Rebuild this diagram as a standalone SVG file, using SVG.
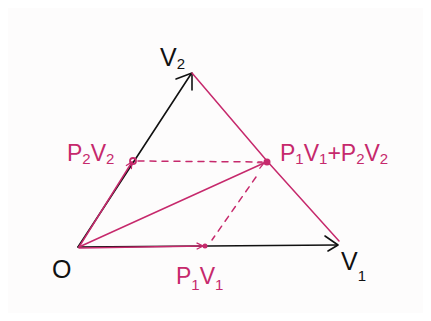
<svg xmlns="http://www.w3.org/2000/svg" width="431" height="321" viewBox="0 0 431 321">
<style>
.blk{stroke:#111;stroke-width:1.6;fill:none;stroke-linecap:round;stroke-linejoin:round}
.mag{stroke:#c6296c;stroke-width:1.5;fill:none;stroke-linecap:round;stroke-linejoin:round}
.dash{stroke-dasharray:6 6}
.tb{font-family:"Liberation Sans",Arial,sans-serif;font-size:25px;fill:#111}
.tm{font-family:"Liberation Sans",Arial,sans-serif;font-size:23px;fill:#c6296c}
.sub{font-size:15px}
</style>
<defs>
<marker id="am" viewBox="0 0 10 10" refX="9" refY="5" markerWidth="8" markerHeight="8" markerUnits="userSpaceOnUse" orient="auto">
<path d="M1,1 L9,5 L1,9" fill="none" stroke="#c6296c" stroke-width="1.5"/>
</marker>
</defs>
<rect width="431" height="321" fill="#ffffff"/>
<rect x="8" y="8" width="415" height="305" fill="#fdfcfc"/>
<g id="connectors">
<path class="blk" d="M78,247 L191,74"/>
<path class="blk" d="M176,79 L192,73 L192,90"/>
<path class="blk" d="M78,247 L337,245"/>
<path class="blk" d="M325,236 L338,245 L328,251"/>
<path class="mag" d="M192,73 L267,161 L339,241"/>
<path class="mag" d="M79,247 L132,162" marker-end="url(#am)"/>
<path class="mag" d="M79,247 L264,163" marker-end="url(#am)"/>
<path class="mag" d="M79,248 L203,246" marker-end="url(#am)"/>
<path class="mag dash" d="M138,161 L262,162"/>
<path class="mag dash" d="M256,177 L212,240"/>
</g>
<g id="origin"><text class="tb" x="52" y="278">O</text></g>
<g id="v2"><text class="tb" x="160" y="66">V<tspan class="sub" dy="3">2</tspan></text></g>
<g id="v1"><text class="tb" x="341" y="270">V<tspan class="sub" dy="11">1</tspan></text></g>
<g id="p2v2">
<circle cx="133" cy="161" r="3" fill="none" stroke="#c6296c" stroke-width="1.8"/>
<text class="tm" x="67" y="161">P<tspan class="sub" dy="3">2</tspan><tspan dy="-3">V</tspan><tspan class="sub" dy="3">2</tspan></text>
</g>
<g id="sum">
<circle cx="267" cy="162" r="3.5" fill="#c6296c"/>
<text class="tm" x="280" y="161">P<tspan class="sub" dy="3">1</tspan><tspan dy="-3">V</tspan><tspan class="sub" dy="3">1</tspan><tspan dy="-3">+P</tspan><tspan class="sub" dy="3">2</tspan><tspan dy="-3">V</tspan><tspan class="sub" dy="3">2</tspan></text>
</g>
<g id="p1v1">
<circle cx="205" cy="246" r="2.5" fill="#c6296c"/>
<text class="tm" x="176" y="284">P<tspan class="sub" dy="6">1</tspan><tspan dy="-6">V</tspan><tspan class="sub" dy="6">1</tspan></text>
</g>
</svg>
